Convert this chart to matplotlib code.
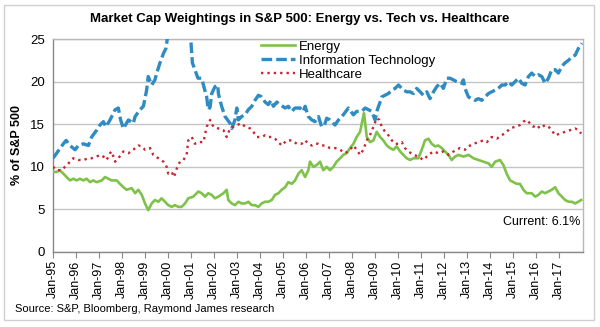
import matplotlib
matplotlib.use("Agg")
import matplotlib.pyplot as plt
from matplotlib.patches import Rectangle

plt.rcParams['font.family'] = ['Liberation Sans', 'DejaVu Sans']

# Market cap weights (% of S&P 500), dates as decimal years
tech_dates = [1995.0, 1995.16, 1995.45, 1995.57, 1995.74, 1995.96, 1996.1, 1996.32, 1996.54, 1996.68,
              1996.9, 1997.04, 1997.19, 1997.3, 1997.48, 1997.7, 1997.84, 1997.94, 1998.06, 1998.28,
              1998.49, 1998.57, 1998.78, 1998.93, 1999.07, 1999.14, 1999.29, 1999.43, 1999.51, 1999.65,
              1999.8, 1999.91, 2000.0, 2000.15, 2000.25, 2000.45, 2000.6, 2000.75, 2000.9, 2001.0,
              2001.06, 2001.17, 2001.3, 2001.46, 2001.54, 2001.68, 2001.75, 2001.83, 2001.9, 2002.04,
              2002.16, 2002.19, 2002.33, 2002.48, 2002.7, 2002.77, 2002.91, 2002.99, 2003.06, 2003.2,
              2003.35, 2003.49, 2003.64, 2003.78, 2003.93, 2004.07, 2004.22, 2004.36, 2004.48, 2004.58,
              2004.73, 2004.87, 2005.09, 2005.23, 2005.38, 2005.52, 2005.74, 2005.88, 2005.96, 2006.1,
              2006.25, 2006.39, 2006.54, 2006.68, 2006.8, 2006.9, 2007.04, 2007.26, 2007.41, 2007.62,
              2007.84, 2008.06, 2008.2, 2008.42, 2008.57, 2008.71, 2008.86, 2009.0, 2009.1, 2009.22,
              2009.29, 2009.44, 2009.58, 2009.73, 2009.87, 2010.02, 2010.23, 2010.38, 2010.52, 2010.67,
              2010.81, 2010.96, 2011.1, 2011.25, 2011.39, 2011.54, 2011.68, 2011.83, 2011.97, 2012.12,
              2012.26, 2012.41, 2012.55, 2012.77, 2012.84, 2012.91, 2013.06, 2013.2, 2013.35, 2013.49,
              2013.64, 2013.78, 2013.93, 2014.07, 2014.22, 2014.36, 2014.51, 2014.65, 2014.8, 2014.94,
              2015.09, 2015.23, 2015.38, 2015.52, 2015.67, 2015.81, 2015.96, 2016.1, 2016.25, 2016.39,
              2016.54, 2016.68, 2016.83, 2016.97, 2017.12, 2017.26, 2017.41, 2017.55, 2017.7, 2017.84,
              2017.99]
tech = [11.0, 11.6, 12.7, 13.1, 12.5, 12.0, 12.5, 12.7, 12.5, 13.5,
        14.3, 14.9, 15.3, 14.7, 15.5, 16.7, 16.9, 15.5, 14.5, 15.5,
        15.1, 15.9, 16.7, 17.1, 19.0, 20.6, 19.6, 20.2, 21.0, 22.2,
        23.3, 23.9, 25.6, 29.0, 32.0, 30.0, 31.5, 29.0, 26.5, 24.5,
        22.2, 21.4, 20.4, 20.4, 19.6, 18.2, 16.7, 17.0, 18.6, 19.4,
        19.6, 18.6, 17.1, 15.9, 15.1, 14.5, 15.5, 16.9, 15.5, 15.9,
        16.1, 16.7, 17.1, 17.8, 18.4, 18.2, 17.6, 17.3, 17.8, 17.1,
        17.6, 17.3, 16.9, 17.1, 16.5, 16.9, 16.9, 16.5, 17.1, 15.9,
        15.5, 15.3, 15.9, 14.7, 14.9, 15.7, 15.5, 14.9, 15.5, 16.1,
        16.9, 16.1, 16.5, 16.5, 16.9, 16.7, 16.5, 15.5, 16.7, 17.6,
        18.2, 18.4, 18.6, 19.0, 19.2, 19.6, 19.0, 18.8, 18.8, 18.6,
        19.2, 18.8, 18.4, 18.8, 18.0, 18.8, 19.4, 19.8, 19.2, 20.4,
        20.4, 20.2, 20.0, 19.8, 20.2, 19.2, 18.2, 18.0, 17.8, 18.0,
        17.8, 18.2, 18.6, 18.8, 19.0, 19.2, 19.6, 19.6, 20.0, 19.6,
        20.0, 20.4, 19.8, 19.6, 20.6, 21.0, 20.6, 20.8, 20.6, 19.8,
        20.4, 21.4, 21.4, 21.0, 21.8, 22.2, 22.5, 22.9, 23.1, 23.9,
        24.5]

health_dates = [1995.0, 1995.16, 1995.38, 1995.52, 1995.67, 1995.88, 1996.1, 1996.32, 1996.54, 1996.68,
                1996.9, 1997.04, 1997.19, 1997.33, 1997.48, 1997.55, 1997.7, 1997.84, 1998.06, 1998.28,
                1998.49, 1998.71, 1998.86, 1999.0, 1999.22, 1999.36, 1999.58, 1999.8, 1999.94, 2000.01,
                2000.16, 2000.26, 2000.38, 2000.52, 2000.67, 2000.81, 2000.88, 2001.03, 2001.17, 2001.32,
                2001.54, 2001.68, 2001.83, 2001.97, 2002.19, 2002.41, 2002.55, 2002.7, 2002.84, 2002.99,
                2003.2, 2003.35, 2003.57, 2003.71, 2003.86, 2004.07, 2004.22, 2004.36, 2004.51, 2004.65,
                2004.8, 2004.94, 2005.16, 2005.38, 2005.6, 2005.81, 2005.96, 2006.1, 2006.25, 2006.39,
                2006.54, 2006.68, 2006.83, 2007.04, 2007.26, 2007.48, 2007.7, 2007.91, 2008.06, 2008.2,
                2008.35, 2008.49, 2008.64, 2008.78, 2008.93, 2009.07, 2009.19, 2009.29, 2009.44, 2009.58,
                2009.73, 2009.87, 2010.02, 2010.16, 2010.3, 2010.45, 2010.67, 2010.88, 2011.1, 2011.32,
                2011.54, 2011.75, 2011.97, 2012.19, 2012.41, 2012.55, 2012.69, 2012.91, 2013.06, 2013.28,
                2013.49, 2013.71, 2013.86, 2014.07, 2014.29, 2014.51, 2014.72, 2014.87, 2015.09, 2015.3,
                2015.45, 2015.59, 2015.74, 2015.88, 2016.03, 2016.17, 2016.39, 2016.54, 2016.68, 2016.83,
                2017.04, 2017.26, 2017.48, 2017.7, 2017.84, 2017.96]
health = [10.0, 9.6, 9.6, 10.0, 10.4, 11.0, 10.8, 10.8, 11.0, 11.0,
          11.2, 11.4, 11.2, 10.8, 11.6, 11.8, 10.6, 11.0, 11.8, 11.6,
          12.0, 12.5, 12.4, 12.0, 12.2, 11.4, 11.0, 10.6, 10.0, 9.2,
          9.4, 8.8, 9.8, 10.6, 10.8, 11.4, 13.1, 13.5, 12.7, 12.9,
          12.9, 14.7, 15.5, 14.7, 14.5, 14.3, 13.5, 14.5, 14.7, 14.9,
          15.1, 14.7, 14.5, 14.1, 13.5, 13.5, 13.7, 13.5, 13.5, 13.3,
          12.9, 12.5, 13.1, 13.1, 12.7, 12.7, 13.1, 12.7, 12.5, 12.7,
          12.7, 12.5, 12.5, 12.2, 12.2, 12.0, 11.6, 12.0, 12.5, 12.0,
          11.4, 12.0, 13.1, 13.7, 14.7, 15.7, 15.5, 14.7, 14.1, 13.7,
          13.1, 12.7, 12.7, 12.9, 12.2, 11.8, 11.4, 11.2, 10.8, 11.4,
          11.8, 11.6, 11.8, 11.4, 11.8, 12.0, 12.2, 12.0, 12.4, 12.7,
          12.9, 13.1, 12.9, 13.5, 13.3, 13.7, 14.1, 14.5, 14.7, 14.9,
          15.3, 15.5, 15.1, 14.7, 14.9, 14.5, 14.9, 14.7, 14.3, 13.7,
          13.9, 14.1, 14.3, 14.5, 14.3, 13.9]

energy_dates = [1995.0, 1995.16, 1995.3, 1995.45, 1995.59, 1995.74, 1995.88, 1996.03, 1996.17, 1996.32,
                1996.46, 1996.61, 1996.75, 1996.9, 1997.12, 1997.26, 1997.41, 1997.55, 1997.77, 1997.91,
                1998.06, 1998.2, 1998.42, 1998.57, 1998.71, 1998.86, 1999.0, 1999.14, 1999.29, 1999.43,
                1999.58, 1999.72, 1999.87, 2000.01, 2000.16, 2000.3, 2000.45, 2000.59, 2000.74, 2000.88,
                2001.1, 2001.32, 2001.46, 2001.61, 2001.75, 2001.9, 2002.04, 2002.19, 2002.41, 2002.55,
                2002.62, 2002.77, 2002.91, 2003.06, 2003.2, 2003.35, 2003.49, 2003.64, 2003.78, 2003.93,
                2004.07, 2004.22, 2004.36, 2004.51, 2004.65, 2004.8, 2004.94, 2005.09, 2005.23, 2005.38,
                2005.52, 2005.67, 2005.81, 2005.96, 2006.1, 2006.17, 2006.32, 2006.46, 2006.61, 2006.75,
                2006.9, 2007.04, 2007.19, 2007.33, 2007.48, 2007.62, 2007.77, 2007.91, 2008.06, 2008.2,
                2008.35, 2008.47, 2008.52, 2008.64, 2008.78, 2008.93, 2009.07, 2009.22, 2009.36, 2009.51,
                2009.65, 2009.8, 2009.94, 2010.09, 2010.23, 2010.38, 2010.52, 2010.67, 2010.88, 2011.03,
                2011.17, 2011.32, 2011.46, 2011.61, 2011.75, 2011.9, 2012.04, 2012.19, 2012.33, 2012.48,
                2012.62, 2012.84, 2013.06, 2013.28, 2013.49, 2013.71, 2013.93, 2014.07, 2014.22, 2014.43,
                2014.58, 2014.72, 2014.87, 2015.01, 2015.16, 2015.3, 2015.45, 2015.59, 2015.81, 2015.96,
                2016.1, 2016.25, 2016.39, 2016.54, 2016.68, 2016.83, 2016.97, 2017.12, 2017.26, 2017.41,
                2017.55, 2017.7, 2017.84, 2017.96]
energy = [9.4, 9.4, 9.6, 9.2, 8.8, 8.4, 8.6, 8.4, 8.6, 8.4,
          8.6, 8.2, 8.4, 8.2, 8.4, 8.8, 8.6, 8.4, 8.4, 8.0,
          7.6, 7.3, 7.5, 6.9, 7.3, 6.7, 5.7, 4.9, 5.7, 6.1,
          5.9, 6.3, 5.9, 5.5, 5.3, 5.5, 5.3, 5.3, 5.7, 6.3,
          6.5, 7.1, 6.9, 6.5, 6.9, 6.7, 6.3, 6.5, 6.9, 7.3,
          6.1, 5.7, 5.5, 5.9, 5.7, 5.7, 5.9, 5.5, 5.5, 5.3,
          5.7, 5.9, 5.9, 6.1, 6.7, 6.9, 7.3, 7.6, 8.2, 8.0,
          8.4, 9.2, 9.6, 8.8, 9.6, 10.6, 10.0, 10.2, 10.6, 9.6,
          10.0, 9.6, 10.0, 10.6, 11.0, 11.4, 11.6, 12.2, 12.7, 13.5,
          14.1, 15.7, 16.3, 13.5, 12.9, 13.1, 14.1, 13.5, 13.1, 12.5,
          12.2, 12.0, 12.4, 11.8, 11.4, 11.0, 10.8, 11.0, 11.0, 12.0,
          13.1, 13.3, 12.7, 12.4, 12.5, 12.2, 11.8, 11.4, 10.8, 11.2,
          11.4, 11.2, 11.4, 11.0, 10.8, 10.6, 10.4, 10.0, 10.6, 10.8,
          10.2, 9.2, 8.4, 8.2, 8.0, 8.0, 7.3, 6.9, 6.9, 6.5,
          6.7, 7.1, 6.9, 7.1, 7.3, 7.6, 6.9, 6.5, 6.1, 5.9,
          5.9, 5.7, 5.9, 6.1]

tick_years = list(range(1995, 2018))
tick_labels = ["Jan-%02d" % (y % 100) for y in tick_years]
current_energy = energy[-1]

fig = plt.figure(figsize=(6.0, 3.27), dpi=100)
ax = fig.add_axes([53 / 600, 1 - 252 / 327, 530 / 600, 213 / 327])

c_energy = "#7ec24a"
c_tech = "#2f8cc3"
c_health = "#c8262e"

ax.plot(energy_dates, energy, color=c_energy, lw=1.9, label="Energy", zorder=3)
ax.plot(tech_dates, tech, color=c_tech, lw=2.4, linestyle=(0, (3.2, 1.2)),
        label="Information Technology", zorder=3)
ax.plot(health_dates, health, color=c_health, lw=1.7, linestyle=(0, (1, 1.7)),
        label="Healthcare", zorder=3)

ax.set_xlim(1995.0, 2018.04)
ax.set_ylim(0, 25)
ax.set_yticks([0, 5, 10, 15, 20, 25])
ax.set_xticks(tick_years)
ax.set_xticklabels(tick_labels, rotation=90, fontsize=9)
ax.tick_params(axis="y", labelsize=9.5, length=0, pad=6)
ax.tick_params(axis="x", length=4, width=0.8, color="#888888", pad=2)
ax.grid(axis="y", color="#c4c4c4", lw=1.0)
ax.set_axisbelow(True)

for side in ("top", "right"):
    ax.spines[side].set_color("#b8b8b8")
    ax.spines[side].set_linewidth(1.0)
for side in ("left", "bottom"):
    ax.spines[side].set_color("#888888")
    ax.spines[side].set_linewidth(1.0)

leg = ax.legend(loc="upper left", bbox_to_anchor=(0.39, 1.0), frameon=False,
                fontsize=9.5, handlelength=2.6, handletextpad=0.25,
                labelspacing=0.15, borderpad=0.1, borderaxespad=0)

ax.text(0.995, 1 - (222 - 39) / 213, "Current: %.1f%%" % current_energy,
        transform=ax.transAxes, ha="right", va="center", fontsize=9)

fig.text(300 / 600, 1 - 19 / 327,
         "Market Cap Weightings in S&P 500: Energy vs. Tech vs. Healthcare",
         ha="center", va="center", fontsize=9.5, fontweight="bold")
fig.text(17 / 600, 1 - 145 / 327, "% of S&P 500", rotation=90,
         ha="center", va="center", fontsize=9, fontweight="bold")
fig.text(15 / 600, 1 - 309 / 327, "Source: S&P, Bloomberg, Raymond James research",
         ha="left", va="center", fontsize=8)

fig.patches.append(Rectangle((4 / 600, 1 - 320 / 327), 590 / 600, 315 / 327,
                             transform=fig.transFigure, fill=False,
                             edgecolor="#cfcfcf", lw=1.0))

fig.savefig("out.png", dpi=100)
